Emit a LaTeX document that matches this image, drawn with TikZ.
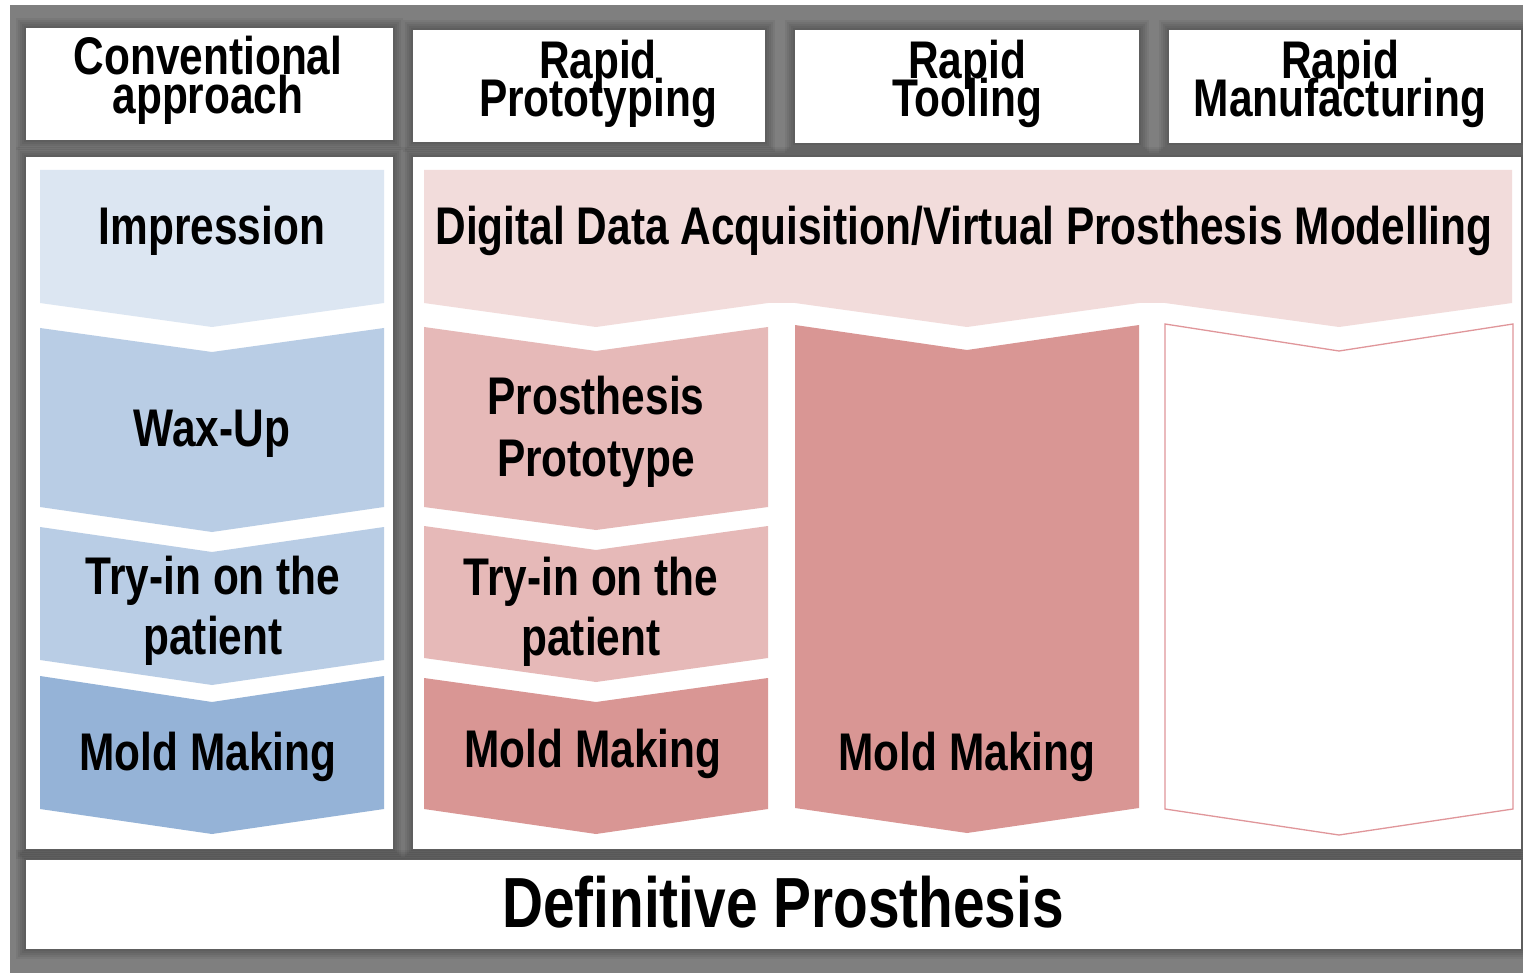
\documentclass[tikz,border=0pt]{standalone}
\usepackage{fontspec}
\setmainfont{Liberation Sans}[FakeStretch=0.8]

\definecolor{framegray}{HTML}{7F7F7F}
\definecolor{blueA}{HTML}{DCE6F2}
\definecolor{blueB}{HTML}{B9CDE5}
\definecolor{blueC}{HTML}{95B3D7}
\definecolor{redA}{HTML}{F2DCDB}
\definecolor{redB}{HTML}{E6B9B8}
\definecolor{redC}{HTML}{D99694}
\definecolor{rmline}{HTML}{E0969A}

% two centred lines with a fixed baseline distance; reference point is the first baseline
\newcommand\twoline[3][61pt]{\vtop{\baselineskip=#1\lineskiplimit=-\maxdimen
  \halign{\hfil##\hfil\cr#2\cr#3\cr}}}

% chevron: style, x-left, x-right, y-top, y-bottom, top notch depth, bottom tip depth
\newcommand\chevron[7]{%
  \path[#1] (#2,#4) -- ({(#2+#3)/2},{#4+#6}) -- (#3,#4) -- (#3,#5)
    -- ({(#2+#3)/2},{#5+#7}) -- (#2,#5) -- cycle;}

% soft dark halo around a white panel
\newcommand\halo[4]{%
  \foreach \r in {2,4,6,8,10}{%
    \fill[black,opacity=0.055] ({#1-\r},{#2-\r}) rectangle ({#3+\r},{#4+\r});}}

\tikzset{
  lab/.style={font=\bfseries\fontsize{53}{61}\selectfont, inner sep=0pt, anchor=base},
  head/.style={font=\bfseries\fontsize{53}{39}\selectfont, inner sep=0pt, anchor=base},
  biglab/.style={font=\bfseries\fontsize{71}{80}\selectfont, inner sep=0pt, anchor=base},
  panel/.style={fill=white}
}

\begin{document}
\begin{tikzpicture}[x=1pt,y=-1pt]
\useasboundingbox (0,0) rectangle (1523,973);

% backdrop
\fill[white] (0,0) rectangle (1523,973);
\fill[framegray] (10,5) rectangle (1523,973);

% halos
\halo{26}{28}{393}{140}
\halo{413}{30}{765}{142}
\halo{795}{30}{1139}{143}
\halo{1169}{30}{1521}{143}
\halo{26}{157}{393}{849}
\halo{413}{157}{1521}{849}
\halo{26}{860}{1521}{949}

% panels
\fill[panel] (26,28) rectangle (393,140);
\fill[panel] (413,30) rectangle (765,142);
\fill[panel] (795,30) rectangle (1139,143);
\fill[panel] (1169,30) rectangle (1521,143);
\fill[panel] (26,157) rectangle (393,849);
\fill[panel] (413,157) rectangle (1521,849);
\fill[panel] (26,860) rectangle (1521,949);

% column headings
\node[head] (hconv) at (208,75) {\twoline[39pt]{Conventional}{approach}};
\node[head] (hrp) at (598,79) {\twoline[38pt]{Rapid}{Prototyping}};
\node[head] (hrt) at (967,79) {\twoline[38pt]{Rapid}{Tooling}};
\node[head] (hrm) at (1340,79) {\twoline[38pt]{Rapid}{Manufacturing}};

% conventional workflow
\chevron{fill=blueA}{40}{384}{170}{303}{0}{24}
\chevron{fill=blueB}{40}{384}{328}{507}{24}{25}
\chevron{fill=blueB}{40}{384}{527}{660}{25}{25}
\chevron{fill=blueC}{40}{384}{676}{809}{26}{25}

% digital workflow: shared first step
\path[fill=redA] (424,170) -- (1512,170) -- (1512,303) -- (1339,327) -- (1165,303)
  -- (1139,303) -- (967,327) -- (795,303) -- (768,303) -- (596,327) -- (424,303) -- cycle;

% rapid prototyping
\chevron{fill=redB}{424}{768}{327}{507}{24}{23}
\chevron{fill=redB}{424}{768}{526}{658}{24}{24}
\chevron{fill=redC}{424}{768}{678}{809}{24}{25}
% rapid tooling
\chevron{fill=redC}{795}{1139}{325}{808}{25}{25}
% rapid manufacturing
\chevron{draw=rmline, fill=white, line width=1.3pt}{1165}{1513}{324}{809}{27}{26}

% step labels
\node[lab] (impr) at (212,245) {Impression};
\node[lab] (wax) at (212,446) {Wax-Up};
\node[lab] (tryL) at (213,594) {\twoline[60pt]{Try-in on the}{patient}};
\node[lab] (moldL) at (208,770) {Mold Making};
\node[lab] (digi) at (964,245) {Digital Data Acquisition/Virtual Prosthesis Modelling};
\node[lab] (proto) at (596,414) {\twoline[62pt]{Prosthesis}{Prototype}};
\node[lab] (tryR) at (591,595) {\twoline[60pt]{Try-in on the}{patient}};
\node[lab] (moldRP) at (593,767) {Mold Making};
\node[lab] (moldRT) at (967,770) {Mold Making};

\node[biglab] (defin) at (783,927) {Definitive Prosthesis};
\end{tikzpicture}
\end{document}
